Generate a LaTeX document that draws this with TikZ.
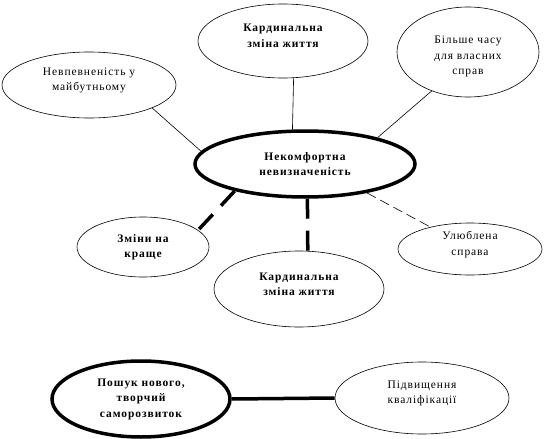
\documentclass[tikz,border=0pt]{standalone}
\usepackage{fontspec}
\setmainfont{Liberation Serif}[LetterSpace=8]
\usetikzlibrary{shapes.geometric}
\newcommand\pushup[1]{\rule[-#1]{0pt}{#1}}
\newcommand\pushdown[1]{\rule{0pt}{#1}}
\begin{document}
\begin{tikzpicture}[x=1pt,y=-1pt,
  oval/.style={ellipse,draw,line width=0.6pt,inner sep=0pt,align=center,
    font=\fontsize{11.5}{15.5}\selectfont},
  bigoval/.style={oval,line width=3.5pt,font=\fontsize{11.5}{15.5}\selectfont\bfseries},
  boldoval/.style={oval,font=\fontsize{11.5}{15.5}\selectfont\bfseries},
  thin/.style={line width=0.6pt},
  thickdash/.style={line width=3.5pt,dash pattern=on 20pt off 12pt},
  thindash/.style={line width=0.6pt,dash pattern=on 10pt off 5pt}]
\useasboundingbox (0,0) rectangle (544,439);
\node[oval,minimum width=174,minimum height=66] (e1) at (89,85) {Невпевненість у\\майбутньому\pushup{12pt}};
\node[boldoval,minimum width=170,minimum height=74] (e2) at (283,41) {Кардинальна\\зміна життя\pushup{11pt}};
\node[oval,minimum width=142,minimum height=90] (e3) at (468,52) {\pushdown{17pt}Більше часу\\для власних\\справ};
\node[bigoval,minimum width=220,minimum height=66] (c) at (305,164) {Некомфортна\\невизначеність};
\node[boldoval,minimum width=132,minimum height=60] (e5) at (143,247) {Зміни на\\краще};
\node[boldoval,minimum width=170,minimum height=76] (e6) at (299,289) {Кардинальна\\зміна життя\pushup{10pt}};
\node[oval,minimum width=144,minimum height=52] (e7) at (470,249) {Улюблена\\справа\pushup{11pt}};
\node[bigoval,minimum width=178,minimum height=76] (e8) at (141,399) {Пошук нового,\\творчий\\саморозвиток};
\node[oval,minimum width=174,minimum height=72] (e9) at (422,398) {Підвищення\\кваліфікації\pushup{12pt}};
\draw[thin] (e1.-20.6) -- (c.173.3);
\draw[thin] (e2.-74.9) -- (c.110.6);
\draw[thin] (e3.227) -- (c.20.1);
\draw[thindash] (c.-25.5) -- (e7.151.6);
\draw[thickdash] (c.201.9) -- (e5.17.2);
\draw[thickdash] (c.-86.5) -- (e6.77.8);
\draw[line width=3.5pt] (e8.east) -- (e9.west);
\end{tikzpicture}
\end{document}
